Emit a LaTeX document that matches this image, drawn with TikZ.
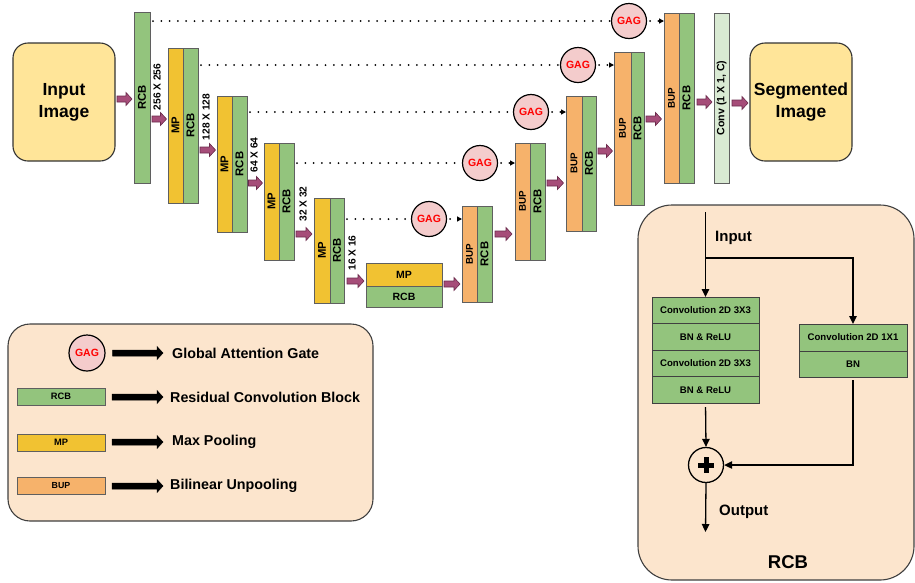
\documentclass[tikz,border=0pt]{standalone}
\usepackage{fontspec}
\setmainfont{Liberation Sans}
\usetikzlibrary{arrows.meta,calc}
\definecolor{cgreen}{HTML}{93C47D}
\definecolor{cyellow}{HTML}{F1C232}
\definecolor{corange}{HTML}{F6B26B}
\definecolor{cpink}{HTML}{F4CCCC}
\definecolor{cbox}{HTML}{FFE599}
\definecolor{cpeach}{HTML}{FCE5CD}
\definecolor{cconv}{HTML}{D9EAD3}
\definecolor{cmaroon}{HTML}{A64D79}
\definecolor{cmaroondark}{HTML}{6B2B4C}
\definecolor{cborder}{HTML}{5F5F5F}
\newcommand\fatarrow[6]{%
 \draw[#1] let \p1=(#2.east |- 0,#4), \p2=(#3.west |- 0,#4) in
 (\x1+#5,\y1+3pt) -- (\x2-#6-6pt,\y2+3pt) -- (\x2-#6-6pt,\y2+6.5pt) -- (\x2-#6,\y2)
 -- (\x2-#6-6pt,\y2-6.5pt) -- (\x2-#6-6pt,\y2-3pt) -- (\x1+#5,\y1-3pt) -- cycle;}
\tikzset{
 blk/.style={draw=cborder, line width=0.7pt, inner sep=0pt, outer sep=0pt, anchor=north west,
   font=\bfseries\fontsize{11.3}{12}\selectfont},
 rcbv/.style={blk, fill=cgreen},
 mpv/.style={blk, fill=cyellow},
 bupv/.style={blk, fill=corange, font=\bfseries\fontsize{9.8}{11}\selectfont},
 gagc/.style={circle, draw=black, line width=1.2pt, fill=cpink, minimum size=35pt, inner sep=0pt,
   text=red, font=\bfseries\fontsize{10.5}{12}\selectfont},
 bigbox/.style={draw=black!80, line width=1.1pt, fill=cbox, rounded corners=15pt, anchor=north west,
   inner sep=0pt, outer sep=0pt, align=center, font=\bfseries\fontsize{17.5}{22}\selectfont},
 panelbox/.style={draw=black!75, line width=1.1pt, fill=cpeach, anchor=north west, inner sep=0pt, outer sep=0pt},
 dimlbl/.style={rotate=90, inner sep=0pt, font=\bfseries\fontsize{10.2}{11}\selectfont},
 fat/.style={fill=cmaroon, draw=cmaroondark, line width=0.6pt},
 larrow/.style={fill=black, draw=black, line width=0.5pt},
 dotline/.style={line width=2pt, dash pattern=on 0pt off 8.3pt, line cap=round},
 dotarr/.style={dotline, -{Triangle[length=5pt,width=5pt]}},
 thinarr/.style={draw=black, line width=1.3pt, -{Triangle[length=8pt,width=7.5pt]}},
 ltxt/.style={anchor=west, inner sep=0pt, font=\bfseries\fontsize{14.3}{16}\selectfont},
 lblk/.style={blk, minimum width=88pt, minimum height=17pt, font=\bfseries\fontsize{9.3}{10}\selectfont},
 pblk/.style={blk, draw=black!75, fill=cgreen, font=\bfseries\fontsize{9.6}{10}\selectfont},
 ptxt/.style={anchor=west, inner sep=0pt, font=\bfseries\fontsize{15}{17}\selectfont}
}
\begin{document}
\begin{tikzpicture}[x=1pt,y=-1pt]
\useasboundingbox (0,0) rectangle (915,582);
% backgrounds
\node[panelbox, rounded corners=22pt, minimum width=365pt, minimum height=197pt] (legend) at (8,324) {};
\node[panelbox, rounded corners=34pt, minimum width=276pt, minimum height=375pt] (rcbpanel) at (638,205) {};
% input / output
\node[bigbox, minimum width=102pt, minimum height=118pt] (inimg) at (13,43) {Input\\Image};
\node[bigbox, minimum width=102pt, minimum height=118pt] (segimg) at (750,43) {Segmented\\Image};
% encoder
\node[rcbv, minimum width=16pt, minimum height=171pt] (rcb1) at (134,12) {\rotatebox{90}{RCB}};
\node[mpv, minimum width=15pt, minimum height=155pt] (mp2) at (168,48) {\rotatebox{90}{MP}};
\node[rcbv, minimum width=15pt, minimum height=155pt] (rcb2) at (183,48) {\rotatebox{90}{RCB}};
\node[mpv, minimum width=15pt, minimum height=136pt] (mp3) at (217,96) {\rotatebox{90}{MP}};
\node[rcbv, minimum width=15pt, minimum height=136pt] (rcb3) at (232,96) {\rotatebox{90}{RCB}};
\node[mpv, minimum width=15pt, minimum height=117pt] (mp4) at (264,143) {\rotatebox{90}{MP}};
\node[rcbv, minimum width=15pt, minimum height=117pt] (rcb4) at (279,143) {\rotatebox{90}{RCB}};
\node[mpv, minimum width=16pt, minimum height=105pt] (mp5) at (314,198) {\rotatebox{90}{MP}};
\node[rcbv, minimum width=14pt, minimum height=105pt] (rcb5) at (330,198) {\rotatebox{90}{RCB}};
\node[mpv, minimum width=76pt, minimum height=23pt, font=\bfseries\fontsize{10.5}{12}\selectfont] (bmp) at (366,263) {MP};
\node[rcbv, minimum width=76pt, minimum height=21pt, font=\bfseries\fontsize{10.5}{12}\selectfont] (brcb) at (366,286) {RCB};
% dimension labels
\node[dimlbl] (d1) at (157,87) {256 X 256};
\node[dimlbl] (d2) at (206,117) {128 X 128};
\node[dimlbl] (d3) at (254,155) {64 X 64};
\node[dimlbl] (d4) at (303,204) {32 X 32};
\node[dimlbl] (d5) at (352,253) {16 X 16};
% decoder
\node[bupv, minimum width=15pt, minimum height=96pt] (bup5) at (462,206) {\rotatebox{90}{BUP}};
\node[rcbv, minimum width=15pt, minimum height=96pt] (drcb5) at (477,206) {\rotatebox{90}{RCB}};
\node[bupv, minimum width=15pt, minimum height=117pt] (bup4) at (515,143) {\rotatebox{90}{BUP}};
\node[rcbv, minimum width=15pt, minimum height=117pt] (drcb4) at (530,143) {\rotatebox{90}{RCB}};
\node[bupv, minimum width=16pt, minimum height=135pt] (bup3) at (566,96) {\rotatebox{90}{BUP}};
\node[rcbv, minimum width=14pt, minimum height=135pt] (drcb3) at (582,96) {\rotatebox{90}{RCB}};
\node[bupv, minimum width=17pt, minimum height=153pt] (bup2) at (614,52) {\rotatebox{90}{BUP}};
\node[rcbv, minimum width=13pt, minimum height=153pt] (drcb2) at (631,52) {\rotatebox{90}{RCB}};
\node[bupv, minimum width=15pt, minimum height=170pt] (bup1) at (664,13) {\rotatebox{90}{BUP}};
\node[rcbv, minimum width=15pt, minimum height=170pt] (drcb1) at (679,13) {\rotatebox{90}{RCB}};
\node[blk, fill=cconv, minimum width=15pt, minimum height=170pt, font=\bfseries\fontsize{10.6}{12}\selectfont] (conv) at (714,13) {\rotatebox{90}{Conv (1 X 1, C)}};
% GAGs
\node[gagc] (gag1) at (629,21) {GAG};
\node[gagc] (gag2) at (578,65) {GAG};
\node[gagc] (gag3) at (531,112) {GAG};
\node[gagc] (gag4) at (480,163) {GAG};
\node[gagc] (gag5) at (429,219) {GAG};
% skip connections
\draw[dotline, shorten <=3pt] (rcb1.east |- gag1) -- (gag1.west);
\draw[dotline, shorten <=3pt] (rcb2.east |- gag2) -- (gag2.west);
\draw[dotline, shorten <=3pt] (rcb3.east |- gag3) -- (gag3.west);
\draw[dotline, shorten <=3pt] (rcb4.east |- gag4) -- (gag4.west);
\draw[dotline, shorten <=3pt] (rcb5.east |- gag5) -- (gag5.west);
\draw[dotarr, shorten <=3pt] (gag1.east) -- (bup1.west |- gag1);
\draw[dotarr, shorten <=3pt] (gag2.east) -- (bup2.west |- gag2);
\draw[dotarr, shorten <=3pt] (gag3.east) -- (bup3.west |- gag3);
\draw[dotarr, shorten <=3pt] (gag4.east) -- (bup4.west |- gag4);
\draw[dotarr, shorten <=3pt] (gag5.east) -- (bup5.west |- gag5);
% fat arrows
\fatarrow{fat}{inimg}{rcb1}{99}{2pt}{2pt}
\fatarrow{fat}{rcb1}{mp2}{119}{2pt}{1.5pt}
\fatarrow{fat}{rcb2}{mp3}{150}{2pt}{1.5pt}
\fatarrow{fat}{rcb3}{mp4}{183}{1.5pt}{1.5pt}
\fatarrow{fat}{rcb4}{mp5}{234}{2pt}{2pt}
\fatarrow{fat}{rcb5}{bmp}{281}{3pt}{2pt}
\fatarrow{fat}{bmp}{bup5}{284}{2pt}{2pt}
\fatarrow{fat}{drcb5}{bup4}{234}{3pt}{3pt}
\fatarrow{fat}{drcb4}{bup3}{183}{2pt}{2.5pt}
\fatarrow{fat}{drcb3}{bup2}{151}{2pt}{1.5pt}
\fatarrow{fat}{drcb2}{bup1}{119}{2pt}{2.5pt}
\fatarrow{fat}{drcb1}{conv}{102}{3pt}{2pt}
\fatarrow{fat}{conv}{segimg}{103}{3pt}{2pt}
% legend
\node[gagc, minimum size=36pt] (lgag) at (87,353) {GAG};
\node[lblk, fill=cgreen] (lrcb) at (17,388) {RCB};
\node[lblk, fill=cyellow] (lmp) at (17,434) {MP};
\node[lblk, fill=corange, font=\bfseries\fontsize{8.8}{10}\selectfont] (lbup) at (17,477) {BUP};
\node[ltxt] (tgag) at (172,353) {Global Attention Gate};
\node[ltxt] (trcb) at (170,397) {Residual Convolution Block};
\node[ltxt] (tmp) at (172,442) {Max Pooling};
\node[ltxt] (tbup) at (170,486) {Bilinear Unpooling};
\fatarrow{larrow}{lgag}{tgag}{353}{7pt}{9pt}
\fatarrow{larrow}{lrcb}{trcb}{397}{7pt}{7pt}
\fatarrow{larrow}{lmp}{tmp}{442}{7pt}{9pt}
\fatarrow{larrow}{lbup}{tbup}{486}{7pt}{7pt}
% RCB panel
\node[pblk, minimum width=107pt, minimum height=26.5pt] (c1) at (652,297) {Convolution 2D 3X3};
\node[pblk, minimum width=107pt, minimum height=26.5pt] (c2) at (652,323.5) {BN \& ReLU};
\node[pblk, minimum width=107pt, minimum height=26.5pt] (c3) at (652,350) {Convolution 2D 3X3};
\node[pblk, minimum width=107pt, minimum height=26.5pt] (c4) at (652,376.5) {BN \& ReLU};
\node[pblk, minimum width=108pt, minimum height=27pt] (r1) at (799,324) {Convolution 2D 1X1};
\node[pblk, minimum width=108pt, minimum height=26pt] (r2) at (799,351) {BN};
\node[circle, draw=black, line width=1.3pt, minimum size=35pt, inner sep=0pt] (plus) at (706,465) {};
\draw[line width=5pt] ($(plus.center)+(-8,0)$) -- ($(plus.center)+(8,0)$);
\draw[line width=5pt] ($(plus.center)+(0,-8)$) -- ($(plus.center)+(0,8)$);
\coordinate (intop) at (c1.north |- 0,212);
\coordinate (split) at (c1.north |- 0,258);
\coordinate (outend) at (c1.north |- 0,532);
\draw[thinarr] (intop) -- (c1.north);
\draw[thinarr] (split) -| (r1.north);
\draw[thinarr, shorten <=4pt] (c4.south) -- (plus.north);
\draw[thinarr, shorten <=3pt] (r2.south) |- (plus.east);
\draw[thinarr] (plus.south) -- (outend);
\node[ptxt] (tin) at (715,238) {Input};
\node[ptxt] (tout) at (719,512) {Output};
\node[inner sep=0pt, font=\bfseries\fontsize{18.5}{20}\selectfont] (trcbbig) at (788,562) {RCB};
\end{tikzpicture}
\end{document}
